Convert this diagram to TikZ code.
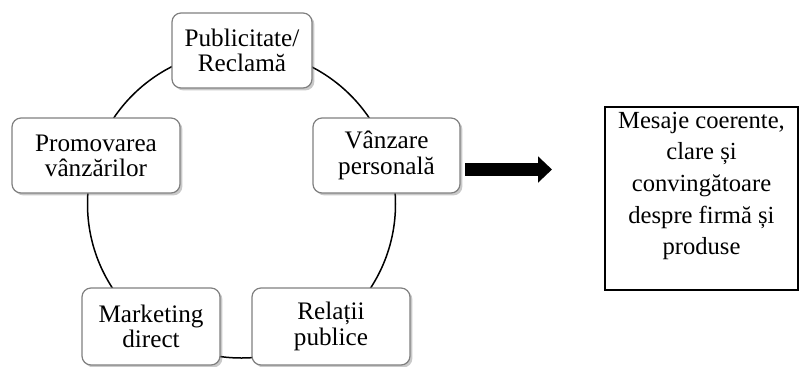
\documentclass[tikz,border=0pt]{standalone}
\usepackage{fontspec}
\setmainfont{Liberation Serif}
\usetikzlibrary{shadows,arrows.meta}
\tikzset{
  smart/.style={draw=black!50, fill=white, rounded corners=4.5pt, line width=0.6pt,
    drop shadow={shadow xshift=1.2pt, shadow yshift=-1.2pt, opacity=0.35, fill=black!60},
    align=center, inner sep=0pt, font=\fontsize{12.6}{12.6}\selectfont},
  msgbox/.style={draw=black, line width=0.6pt, fill=white, inner sep=0pt},
  msgtext/.style={align=center, inner sep=0pt, font=\fontsize{12.3}{15.85}\selectfont},
  ringline/.style={draw=black, line width=0.75pt, circle, inner sep=0pt},
  bigarrow/.style={line width=6.5pt, -{Triangle[length=7pt,width=12.8pt]}}
}
\begin{document}
\begin{tikzpicture}[x=0.5pt,y=-0.5pt]
\useasboundingbox[fill=white] (0,0) rectangle (800,366);
\node[ringline, minimum size=154pt] (ring) at (241.5,204) {};
\node[smart, minimum width=70pt, minimum height=37.5pt] (pub) at (242,50.5) {Publicitate/\\Reclamă};
\node[smart, minimum width=84pt, minimum height=37.5pt] (prom) at (96,155.5) {Promovarea\\vânzărilor};
\node[smart, minimum width=73.5pt, minimum height=37.5pt] (vanz) at (386.5,155.5) {Vânzare\\personală};
\node[smart, minimum width=69pt, minimum height=38.5pt] (mark) at (151,326.5) {Marketing\\direct};
\node[smart, minimum width=79pt, minimum height=38.5pt] (rel) at (331,326.5) {Relații\\publice};
\coordinate (a1) at (465,169.5);
\coordinate (a2) at (552,169.5);
\draw[bigarrow] (a1) -- (a2);
\node[msgbox, minimum width=96.5pt, minimum height=91.5pt] (msg) at (701.5,198.5) {};
\node[msgtext] (msgtxt) at (701.5,186) {Mesaje coerente,\\clare și\\convingătoare\\despre firmă și\\produse};
\end{tikzpicture}
\end{document}
